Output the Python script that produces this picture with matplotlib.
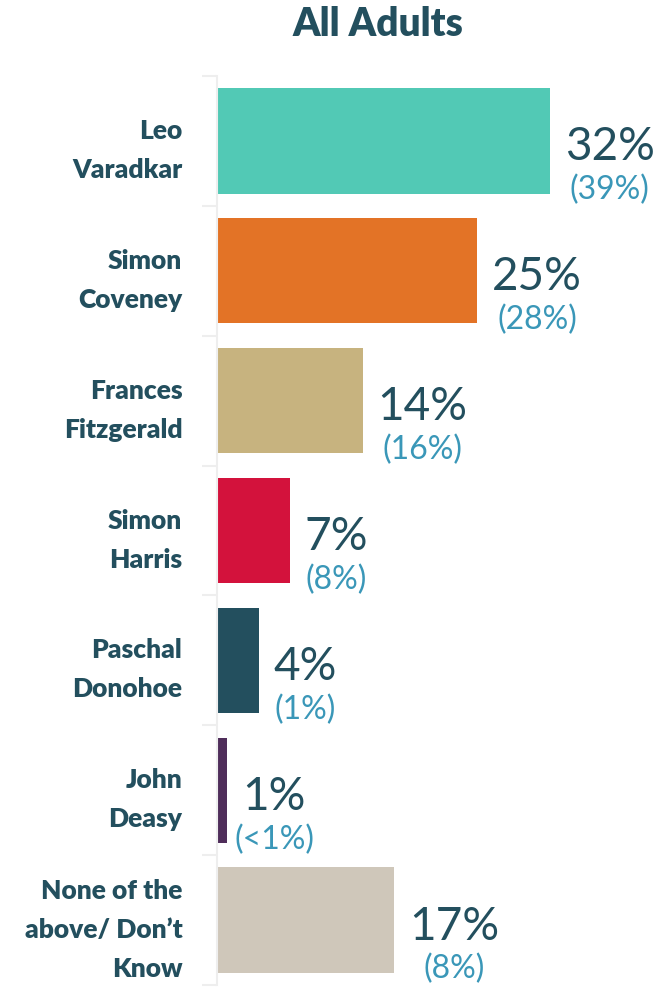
import numpy as np
import matplotlib.pyplot as plt

# data
candidates = ["Leo\nVaradkar", "Simon\nCoveney", "Frances\nFitzgerald", "Simon\nHarris",
              "Paschal\nDonohoe", "John\nDeasy", "None of the\nabove/ Don\u2019t\nKnow"]
current = [32, 25, 14, 7, 4, 1, 17]
previous = ["(39%)", "(28%)", "(16%)", "(8%)", "(1%)", "(<1%)", "(8%)"]
bar_colors = ["#52C9B5", "#E37326", "#C7B37F", "#D3123C", "#234F5E", "#4F2D5A", "#CFC7BA"]

dark = "#234F5E"
blue = "#3A97B8"
plt.rcParams['font.family'] = ['Lato', 'DejaVu Sans']

fig = plt.figure(figsize=(6.6, 9.96), dpi=100)
ax = fig.add_axes([217/660, 11/996, 443/660, 909/996])

y = np.arange(len(candidates))
ax.barh(y, current, height=0.81, color=bar_colors)

ax.set_xlim(0, 443/10.4)
ax.set_ylim(len(candidates) - 0.5, -0.5)

ax.set_yticks(y)
ax.set_yticklabels(candidates, fontsize=19, fontweight='heavy', color=dark, linespacing=1.75)
ax.tick_params(axis='y', which='major', length=0, pad=25)
ax.set_yticks(np.arange(-0.5, len(candidates), 1), minor=True)
ax.tick_params(axis='y', which='minor', length=11, color="#EEEEEE", width=1.5)
ax.set_xticks([])

for s in ["top", "right", "bottom"]:
    ax.spines[s].set_visible(False)
ax.spines["left"].set_color("#EEEEEE")
ax.spines["left"].set_linewidth(1.5)

fig.canvas.draw()
renderer = fig.canvas.get_renderer()
inv = ax.transData.inverted()
for i, (v, p) in enumerate(zip(current, previous)):
    big = ax.text(v + 1.45, i + 0.05, f"{v}%", fontsize=33, color=dark, ha='left', va='center')
    bb = big.get_window_extent(renderer)
    xc = inv.transform(((bb.x0 + bb.x1) / 2, 0))[0]
    ax.text(xc, i + 0.38, p, fontsize=23, color=blue, ha='center', va='center')

fig.text(378/660, 1 - 25/996, "All Adults", fontsize=28, fontweight='heavy',
         color=dark, ha='center', va='center')

fig.savefig("out.png", dpi=100)
